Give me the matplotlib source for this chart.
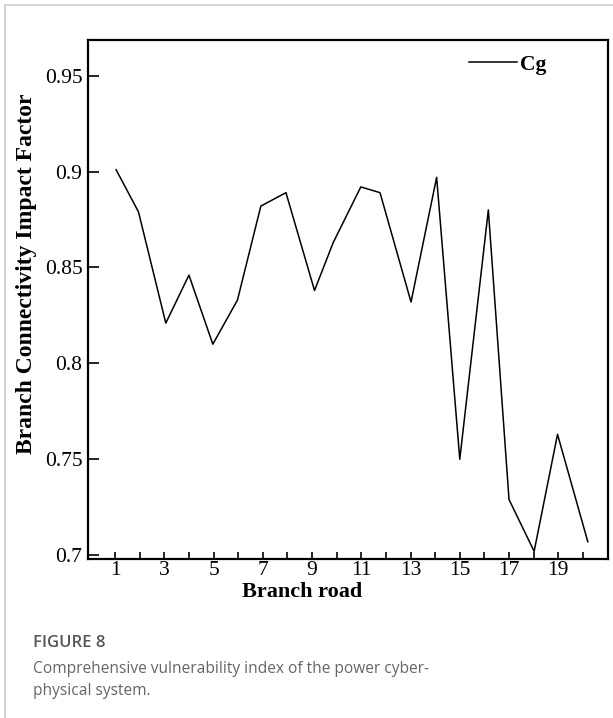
import numpy as np
import matplotlib.pyplot as plt
from matplotlib.patches import Rectangle

# Branch connectivity impact factor per branch road
branch = [1.04, 1.95, 3.06, 4.0, 4.97, 5.97, 6.92, 7.94, 9.1, 9.86,
          10.98, 11.76, 13.02, 14.06, 15.0, 16.16, 17.0, 18.02, 18.97, 20.2]
cg = [0.901, 0.879, 0.821, 0.846, 0.810, 0.833, 0.882, 0.889, 0.838, 0.863,
      0.892, 0.889, 0.832, 0.897, 0.750, 0.880, 0.729, 0.702, 0.763, 0.707]
xticks = list(range(1, 21))
xticklabels = [str(t) if t % 2 == 1 else '' for t in xticks]
yticks = [0.7, 0.75, 0.8, 0.85, 0.9, 0.95]
yticklabels = ['0.7', '0.75', '0.8', '0.85', '0.9', '0.95']

serif = 'Liberation Serif'

fig = plt.figure(figsize=(6.13, 7.18), dpi=100)

# light grey frame around the panel
fig.patches.append(Rectangle((5 / 613, -0.1), 1.2, (718 - 5) / 718 + 0.1,
                             transform=fig.transFigure, fill=False,
                             edgecolor='#cccccc', linewidth=1.2))

ax = fig.add_axes([88 / 613, (718 - 559) / 718, 520 / 613, 519 / 718])
ax.plot(branch, cg, color='black', linewidth=1.1, label='Cg')

ax.set_xlim(-0.1, 21.02)
ax.set_ylim(0.698, 0.9686)
ax.set_xticks(xticks)
ax.set_xticklabels(xticklabels, fontfamily=serif, fontsize=15.5)
ax.set_yticks(yticks)
ax.set_yticklabels(yticklabels, fontfamily=serif, fontsize=15.5)
ax.tick_params(axis='x', direction='in', length=5, width=1.2, pad=1.5)
ax.tick_params(axis='y', direction='in', length=8, width=1.2, pad=4)
for s in ax.spines.values():
    s.set_linewidth(1.6)

ax.set_xlabel('Branch road', fontfamily=serif, fontweight='bold', fontsize=16)
ax.set_ylabel('Branch Connectivity Impact Factor', fontfamily=serif,
              fontweight='bold', fontsize=17)
ax.xaxis.set_label_coords(0.4115, -0.045)
ax.yaxis.set_label_coords(-0.098, 0.549)

ax.legend(loc='upper left', bbox_to_anchor=(0.733, 0.972), frameon=False,
          prop={'family': serif, 'weight': 'bold', 'size': 15.5},
          handlelength=2.2, handletextpad=0.15, borderpad=0,
          borderaxespad=0)

fig.text(33 / 613, 1 - 643 / 718, 'FIGURE 8', fontfamily='Open Sans',
         fontsize=12, color='#555555', va='center', fontweight='semibold')
fig.text(33 / 613, 1 - 680 / 718,
         'Comprehensive vulnerability index of the power cyber-\nphysical system.',
         fontfamily='Open Sans', fontsize=11.2, color='#666666', va='center',
         linespacing=1.55)

fig.savefig('out.png', dpi=100)
